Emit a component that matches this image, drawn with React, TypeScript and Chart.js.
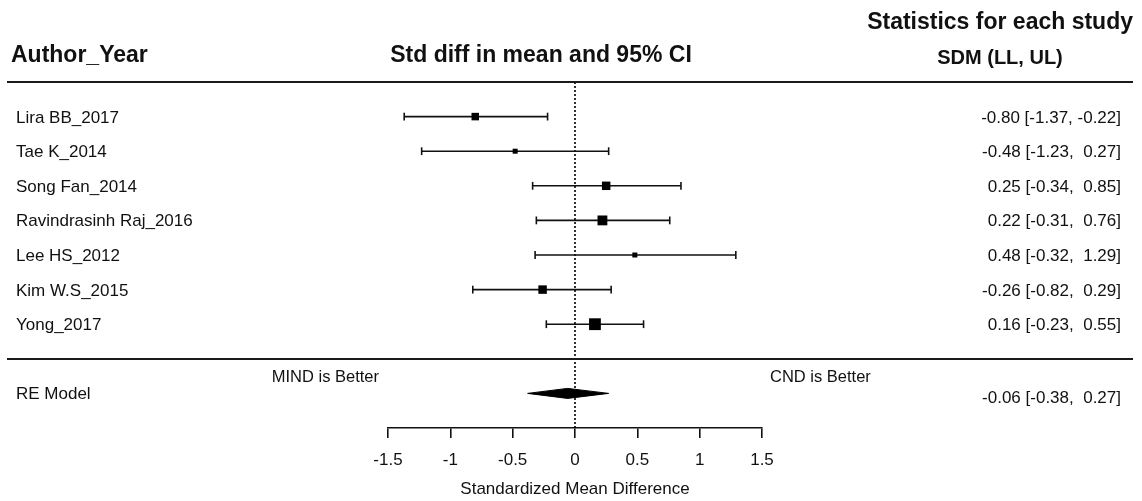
import React, { useEffect, useRef } from 'react';
import { Chart, registerables } from 'chart.js';

Chart.register(...registerables);

// ---- data ----
const studies = [
  'Lira BB_2017',
  'Tae K_2014',
  'Song Fan_2014',
  'Ravindrasinh Raj_2016',
  'Lee HS_2012',
  'Kim W.S_2015',
  'Yong_2017',
];
const smd = [-0.8, -0.48, 0.25, 0.22, 0.48, -0.26, 0.16];
const lower = [-1.37, -1.23, -0.34, -0.31, -0.32, -0.82, -0.23];
const upper = [-0.22, 0.27, 0.85, 0.76, 1.29, 0.29, 0.55];
const weights = [13.7, 10.0, 15.1, 17.1, 10.0, 15.1, 20.0];
const pooledLabel = 'RE Model';
const pooled = [-0.06];
const pooledLower = [-0.38];
const pooledUpper = [0.27];
const tickValues = [-1.5, -1, -0.5, 0, 0.5, 1, 1.5];
const tickLabels = ['-1.5', '-1', '-0.5', '0', '0.5', '1', '1.5'];
const headerLeft = 'Author_Year';
const headerMid = 'Std diff in mean and 95% CI';
const headerRightTop = 'Statistics for each study';
const headerRight = 'SDM (LL, UL)';
const xTitle = 'Standardized Mean Difference';
const leftNote = 'MIND is Better';
const rightNote = 'CND is Better';

// ---- layout constants ----
const W = 1142;
const H = 501;
const FONT = "'Liberation Sans', Arial, Helvetica, sans-serif";
const INK = '#111';
const pooledRow = studies.length + 1;
const diamondHalf = 0.145;

const fmt = (v: number) => (v < 0 ? v.toFixed(2) : ' ' + v.toFixed(2));
const ciText = (e: number, l: number, u: number) =>
  `${fmt(e)} [${fmt(l)}, ${fmt(u)}]`.replace(/^ /, '');

const wMin = Math.min(...weights);
const wMax = Math.max(...weights);
const squareSide = (w: number) => 5 + ((w - wMin) / (wMax - wMin)) * 6.8;

function drawText(
  ctx: CanvasRenderingContext2D,
  text: string,
  x: number,
  capCenterY: number,
  size: number,
  bold: boolean,
  align: CanvasTextAlign
) {
  ctx.font = `${bold ? 'bold ' : ''}${size}px ${FONT}`;
  ctx.textAlign = align;
  ctx.textBaseline = 'alphabetic';
  ctx.fillStyle = INK;
  ctx.fillText(text, x, capCenterY + 0.358 * size);
}

const textPlugin = {
  id: 'forestText',
  afterDraw(chart: any) {
    const ctx: CanvasRenderingContext2D = chart.ctx;
    const ys = chart.scales.y;
    const xs = chart.scales.x;
    ctx.save();

    // separators
    ctx.strokeStyle = '#1a1a1a';
    ctx.lineWidth = 2;
    [-1, studies.length].forEach((r) => {
      const y = Math.round(ys.getPixelForValue(r));
      ctx.beginPath();
      ctx.moveTo(7, y);
      ctx.lineTo(1133, y);
      ctx.stroke();
    });

    // headers
    drawText(ctx, headerRightTop, 1133, 21, 23, true, 'right');
    drawText(ctx, headerLeft, 11, 54, 23, true, 'left');
    drawText(ctx, headerMid, 541, 54, 23, true, 'center');
    drawText(ctx, headerRight, 1000, 57, 20, true, 'center');

    // rows
    studies.forEach((s, i) => {
      const y = ys.getPixelForValue(i);
      drawText(ctx, s, 16, y, 17, false, 'left');
      drawText(ctx, ciText(smd[i], lower[i], upper[i]), 1121, y, 17, false, 'right');
    });

    const py = ys.getPixelForValue(pooledRow);
    drawText(ctx, pooledLabel, 16, py, 17, false, 'left');
    drawText(ctx, ciText(pooled[0], pooledLower[0], pooledUpper[0]), 1121, py + 4, 17, false, 'right');

    // direction notes
    const noteY = py - 17;
    drawText(ctx, leftNote, xs.left - 9, noteY, 16.5, false, 'right');
    drawText(ctx, rightNote, xs.right + 8, noteY, 16.5, false, 'left');

    ctx.restore();
  },
};

export default function App() {
  const ref = useRef<HTMLCanvasElement | null>(null);

  useEffect(() => {
    if (!ref.current) return;

    const ciDatasets = studies.map((s, i) => ({
      label: s,
      data: [
        { x: lower[i], y: i },
        { x: upper[i], y: i },
      ],
      showLine: true,
      borderColor: INK,
      borderWidth: 1.6,
      pointStyle: 'line',
      pointRotation: 90,
      pointRadius: 3.9,
      pointBorderWidth: 1.6,
      pointBorderColor: INK,
      pointBackgroundColor: INK,
      order: 2,
    }));

    const squares = {
      label: 'SMD',
      data: smd.map((v, i) => ({ x: v, y: i })),
      showLine: false,
      pointStyle: 'rect',
      pointRadius: weights.map((w) => squareSide(w) / Math.SQRT2),
      pointBackgroundColor: '#000',
      pointBorderWidth: 0,
      pointBorderColor: '#000',
      order: 0,
    };

    const zeroLine = {
      label: 'zero',
      data: [
        { x: 0, y: -1 },
        { x: 0, y: pooledRow + 1 },
      ],
      showLine: true,
      borderColor: '#000',
      borderWidth: 1.6,
      borderDash: [2, 2],
      pointRadius: 0,
      order: 3,
    };

    const diamond = {
      label: 'pooled',
      data: [
        { x: pooledLower[0], y: pooledRow },
        { x: pooled[0], y: pooledRow - diamondHalf },
        { x: pooledUpper[0], y: pooledRow },
        { x: pooled[0], y: pooledRow + diamondHalf },
        { x: pooledLower[0], y: pooledRow },
      ],
      showLine: true,
      fill: 'shape',
      backgroundColor: '#000',
      borderColor: '#000',
      borderWidth: 1,
      pointRadius: 0,
      order: 1,
    };

    const chart = new Chart(ref.current, {
      type: 'scatter',
      data: { datasets: [zeroLine, ...ciDatasets, diamond, squares] as any },
      plugins: [textPlugin],
      options: {
        animation: false,
        responsive: false,
        maintainAspectRatio: false,
        devicePixelRatio: 1,
        events: [],
        layout: { padding: { left: 388, right: 380, top: 82, bottom: 0 } },
        plugins: {
          legend: { display: false },
          tooltip: { enabled: false },
        },
        scales: {
          x: {
            type: 'linear',
            position: 'bottom',
            min: tickValues[0],
            max: tickValues[tickValues.length - 1],
            afterBuildTicks: (s: any) => {
              s.ticks = tickValues.map((v) => ({ value: v }));
            },
            afterFit: (s: any) => {
              s.height = 73;
            },
            ticks: {
              callback: (_v: any, i: number) => tickLabels[i],
              color: INK,
              font: { family: FONT, size: 17 },
              padding: 12,
              maxRotation: 0,
              autoSkip: false,
            },
            grid: {
              drawOnChartArea: false,
              drawTicks: true,
              tickLength: 10,
              color: INK,
              lineWidth: 1.6,
            },
            border: { display: true, color: INK, width: 1.6 },
            title: {
              display: true,
              text: xTitle,
              color: INK,
              font: { family: FONT, size: 17, lineHeight: 1.2 },
              padding: { top: 0, bottom: 1 },
            },
          },
          y: {
            type: 'linear',
            min: -1,
            max: pooledRow + 1,
            reverse: true,
            display: false,
          },
        },
      } as any,
    });

    return () => chart.destroy();
  }, []);

  return (
    <div style={{ position: 'absolute', left: 0, top: 0, width: W, height: H, background: '#fff' }}>
      <canvas ref={ref} width={W} height={H} style={{ display: 'block', width: W, height: H }} />
    </div>
  );
}
